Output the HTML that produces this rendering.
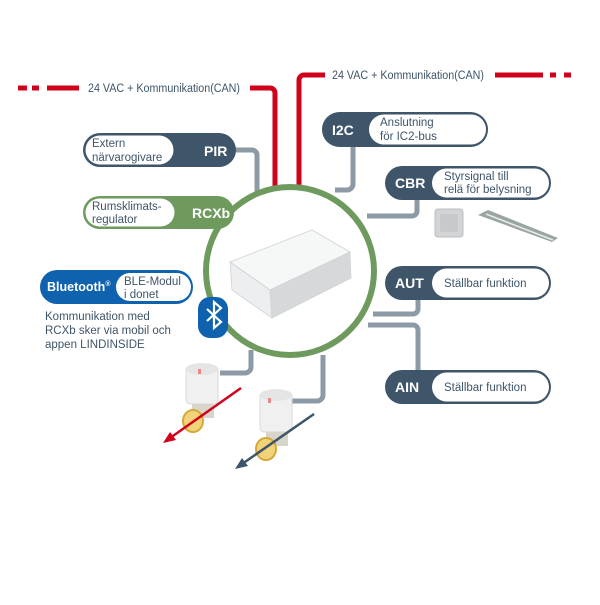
<!DOCTYPE html>
<html><head><meta charset="utf-8"><style>
html,body{margin:0;padding:0;background:#fff;}
svg text{font-family:"Liberation Sans",sans-serif;}
</style></head><body>
<svg width="600" height="600" viewBox="0 0 600 600" xmlns="http://www.w3.org/2000/svg">
<rect width="600" height="600" fill="#fff"/>
<g fill="none" stroke="#d0021b" stroke-width="5">
<path d="M18 88h9M32 88h7M47 88h32"/>
<path d="M250 88h20a5 5 0 0 1 5 5v95"/>
<path d="M325 75h-21a5 5 0 0 0 -5 5v108"/>
<path d="M495 75h48M550 75h6M564 75h7"/>
</g>
<text x="88" y="92" font-size="11.5" textLength="152" lengthAdjust="spacingAndGlyphs" fill="#3f5569">24 VAC + Kommunikation(CAN)</text>
<text x="332" y="79" font-size="11.5" textLength="152" lengthAdjust="spacingAndGlyphs" fill="#3f5569">24 VAC + Kommunikation(CAN)</text>
<g fill="none" stroke="#8c9aa6" stroke-width="5">
<path d="M234 150h18a5 5 0 0 1 5 5v38"/>
<path d="M353 146v38a6 6 0 0 1 -6 6h-12"/>
<path d="M417 199v12a5 5 0 0 1 -5 5h-45"/>
<path d="M418 299v10a5 5 0 0 1 -5 5h-40"/>
<path d="M368 325h45a5 5 0 0 1 5 5v42"/>
<path d="M251 350v17a6 6 0 0 1 -6 6h-25"/>
<path d="M323 355v40a6 6 0 0 1 -6 6h-25"/>
</g>
<circle cx="290" cy="271" r="84" fill="#fff" stroke="#6f9a5e" stroke-width="6"/>
<g stroke="#cfd3d6" stroke-width="0.8">
<polygon points="230,262 312,230 350,252 270,290" fill="#f6f7f7"/>
<polygon points="230,262 270,290 272,318 232,290" fill="#eceeef"/>
<polygon points="270,290 350,252 351,278 272,318" fill="#d6d9db"/>
</g>
<g>
<rect x="83" y="133" width="153" height="34" rx="17" fill="#3f5569"/>
<rect x="85.5" y="135.5" width="88" height="29" rx="14.5" fill="#fff"/>
<text x="92" y="147" font-size="11.5" fill="#3f5569">Extern</text>
<text x="92" y="161" font-size="11.5" fill="#3f5569">närvarogivare</text>
<text x="204" y="156" font-size="14" font-weight="bold" fill="#fff">PIR</text>

<rect x="83" y="196" width="151" height="33" rx="16.5" fill="#6f9a5e"/>
<rect x="85.5" y="198.5" width="89" height="28" rx="14" fill="#fff"/>
<text x="92" y="210" font-size="11.5" fill="#3f5569">Rumsklimats-</text>
<text x="92" y="223" font-size="11.5" fill="#3f5569">regulator</text>
<text x="192" y="218" font-size="14" font-weight="bold" fill="#fff">RCXb</text>

<rect x="40" y="270" width="153" height="34" rx="17" fill="#0f62ae"/>
<rect x="116" y="273" width="75" height="28" rx="14" fill="#fff"/>
<text x="47" y="291" font-size="12.5" font-weight="bold" fill="#fff">Bluetooth<tspan font-size="7" dy="-5">®</tspan></text>
<text x="124" y="285" font-size="11.5" fill="#3f5569">BLE-Modul</text>
<text x="124" y="298" font-size="11.5" fill="#3f5569">i donet</text>
<text x="45" y="320" font-size="11.5" fill="#3f5569">Kommunikation med</text>
<text x="45" y="334" font-size="11.5" fill="#3f5569">RCXb sker via mobil och</text>
<text x="45" y="348" font-size="11.5" fill="#3f5569">appen LINDINSIDE</text>

<rect x="322" y="112" width="166" height="35" rx="17.5" fill="#3f5569"/>
<rect x="369" y="114.5" width="117" height="30" rx="15" fill="#fff"/>
<text x="332" y="135" font-size="14" font-weight="bold" fill="#fff">I2C</text>
<text x="380" y="126" font-size="11.5" fill="#3f5569">Anslutning</text>
<text x="380" y="140" font-size="11.5" fill="#3f5569">för IC2-bus</text>

<rect x="385" y="166" width="166" height="34" rx="17" fill="#3f5569"/>
<rect x="432" y="168.5" width="117" height="29" rx="14.5" fill="#fff"/>
<text x="395" y="188" font-size="14" font-weight="bold" fill="#fff">CBR</text>
<text x="444" y="180" font-size="11.5" fill="#3f5569">Styrsignal till</text>
<text x="444" y="193" font-size="11.5" fill="#3f5569">relä för belysning</text>

<rect x="385" y="266" width="166" height="34" rx="17" fill="#3f5569"/>
<rect x="432" y="268.5" width="117" height="29" rx="14.5" fill="#fff"/>
<text x="395" y="288" font-size="14" font-weight="bold" fill="#fff">AUT</text>
<text x="444" y="287" font-size="11.5" fill="#3f5569">Ställbar funktion</text>

<rect x="385" y="370" width="166" height="34" rx="17" fill="#3f5569"/>
<rect x="432" y="372.5" width="117" height="29" rx="14.5" fill="#fff"/>
<text x="395" y="392" font-size="14" font-weight="bold" fill="#fff">AIN</text>
<text x="444" y="391" font-size="11.5" fill="#3f5569">Ställbar funktion</text>
</g>
<rect x="435" y="209" width="28" height="28" rx="3" fill="#d2d4d6" stroke="#b9bcbf"/>
<rect x="440" y="214" width="18" height="18" rx="2" fill="#c7c9cc"/>
<polygon points="478,215 488,210 558,238 552,242" fill="#9aa5a3"/>
<line x1="486" y1="214" x2="553" y2="240" stroke="#e8ecea" stroke-width="1.5"/>
<rect x="198" y="297" width="30" height="41" rx="12" fill="#0f62ae"/>
<path d="M207 309l14 13-7 6v-26l7 6-14 13" fill="none" stroke="#fff" stroke-width="2.2"/>
<g>
<rect x="186" y="366" width="32" height="38" rx="4" fill="#f0f0f0" stroke="#d8d8d8"/>
<ellipse cx="202" cy="369" rx="16" ry="6" fill="#e5e5e5"/>
<rect x="198" y="369" width="3" height="5" fill="#e88"/>
<rect x="192" y="404" width="22" height="14" fill="#d8d5cc"/>
<ellipse cx="193" cy="421" rx="10" ry="11" fill="#f1d47a" stroke="#d4a83a" stroke-width="2"/>
<line x1="241" y1="388" x2="170" y2="438" stroke="#d0021b" stroke-width="2.5"/>
<polygon points="163,443 170,432 176,440" fill="#d0021b"/>

<rect x="260" y="392" width="32" height="40" rx="4" fill="#f0f0f0" stroke="#d8d8d8"/>
<ellipse cx="276" cy="395" rx="16" ry="6" fill="#e5e5e5"/>
<rect x="268" y="398" width="3" height="5" fill="#e88"/>
<rect x="266" y="432" width="22" height="14" fill="#d8d5cc"/>
<ellipse cx="266" cy="449" rx="10" ry="11" fill="#f1d47a" stroke="#d4a83a" stroke-width="2"/>
<line x1="314" y1="414" x2="242" y2="464" stroke="#3f5569" stroke-width="2.5"/>
<polygon points="235,469 242,458 248,466" fill="#3f5569"/>
</g>
</svg>
</body></html>
